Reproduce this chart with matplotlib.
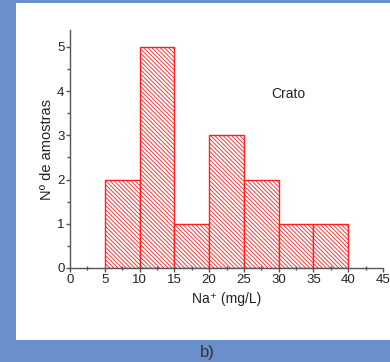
import matplotlib
matplotlib.use("Agg")
import matplotlib.pyplot as plt
from matplotlib.patches import Rectangle
from matplotlib.ticker import MultipleLocator

plt.rcParams['font.family'] = ['Liberation Sans', 'DejaVu Sans']
plt.rcParams['hatch.linewidth'] = 0.6
plt.rcParams['hatch.color'] = '#ff3838'

bin_left = [5, 10, 15, 20, 25, 30, 35]
counts = [2, 5, 1, 3, 2, 1, 1]
bin_width = 5

fig = plt.figure(figsize=(3.9, 3.62), dpi=100)
fig.patch.set_facecolor('#6a8fca')
# white panel behind the plot
fig.patches.append(Rectangle((16/390, 22/362), 1 - 16/390, 337/362,
                             transform=fig.transFigure, facecolor='white',
                             edgecolor='none', zorder=-10))

ax = fig.add_axes([70/390, 94/362, 313/390, 238/362])
ax.set_facecolor('none')
ax.bar(bin_left, counts, width=bin_width, align='edge', facecolor='white',
       edgecolor='#ff2020', linewidth=1.0, hatch='\\' * 8)

ax.set_xlim(0, 45)
ax.set_ylim(0, 5.38)
ax.xaxis.set_major_locator(MultipleLocator(5))
ax.xaxis.set_minor_locator(MultipleLocator(2.5))
ax.yaxis.set_major_locator(MultipleLocator(1))
ax.yaxis.set_minor_locator(MultipleLocator(0.5))

for s in ['top', 'right']:
    ax.spines[s].set_visible(False)
for s in ['left', 'bottom']:
    ax.spines[s].set_color('#555555')
    ax.spines[s].set_linewidth(1.0)

ax.tick_params(axis='both', which='major', direction='out', length=3,
               width=1, color='#555555', labelsize=9.5, labelcolor='#222222', pad=1)
ax.tick_params(axis='x', which='minor', direction='inout', length=3, width=1, color='#555555')
ax.tick_params(axis='y', which='minor', direction='out', length=2, width=1, color='#555555')

ax.set_xlabel('Na⁺ (mg/L)', fontsize=10, color='#222222', labelpad=5)
ax.set_ylabel('Nº de amostras', fontsize=10.5, color='#222222', labelpad=2)
ax.text(29, 3.94, 'Crato', fontsize=10, color='#222222', va='center')

fig.text(207/390, 10/362, 'b)', fontsize=12, color='#333333', ha='center', va='center')

fig.savefig('out.png', dpi=100, facecolor=fig.get_facecolor())
